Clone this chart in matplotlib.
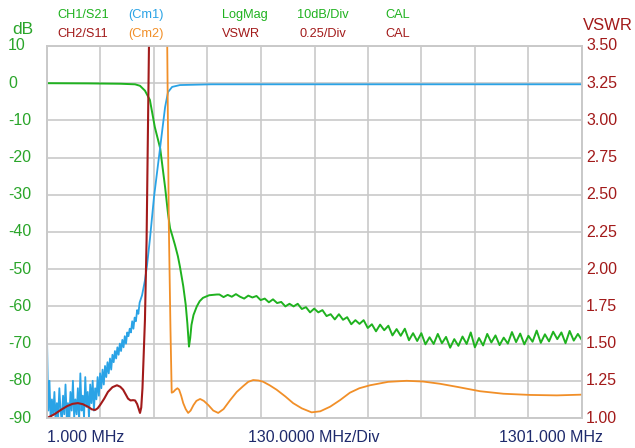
import matplotlib.pyplot as plt
import numpy as np

plt.rcParams['font.family'] = ['Liberation Sans', 'DejaVu Sans']

# CH1/S21 (green, dB) - smooth part of the trace
s21_f = [1, 100, 180, 215, 227, 239, 251, 263, 276, 288, 295, 300, 305,
         312, 319, 324, 332, 338, 342, 346, 349, 352, 357, 365, 372, 380,
         395, 414]
s21_db = [0.0, -0.05, -0.15, -0.3, -0.7, -2.0, -4.5, -11.8, -17.5, -28.0,
          -35.0, -39.0, -40.8, -43.5, -46.5, -49.3, -54.5, -59.5, -64.5,
          -70.8, -68.5, -65.0, -62.3, -60.0, -58.6, -57.7, -57.0, -56.8]
# noisy stop band part, sweep points 420..1301 MHz
s21_noise_db = [-56.8, -57.5, -56.9, -57.4, -56.7, -57.4, -57.9, -57.1, -57.6,
                -57.2, -58.3, -57.9, -58.9, -58.1, -59.1, -58.8, -60.0, -59.3,
                -60.0, -59.3, -60.7, -60.2, -61.6, -60.6, -61.6, -61.0, -62.6,
                -62.1, -63.5, -62.1, -63.6, -62.9, -64.8, -63.7, -64.7, -63.7,
                -65.8, -64.8, -66.7, -64.9, -66.4, -65.2, -67.8, -66.1, -67.9,
                -66.0, -69.1, -67.2, -69.3, -67.2, -70.2, -68.3, -70.1, -67.4,
                -69.9, -68.2, -71.1, -68.8, -70.6, -68.1, -70.1, -67.0, -71.0,
                -68.5, -70.5, -67.4, -69.7, -67.8, -70.4, -68.4, -70.0, -66.9,
                -69.6, -67.3, -70.2, -67.9, -69.5, -66.5, -69.8, -67.5, -69.4,
                -66.8, -68.8, -67.0, -69.9, -66.6, -69.2, -67.4, -69.1]

# Cm1 (blue, dB) - noisy low part, sweep points 1..226 MHz
cm1_noise_db = [-68.5, -88, -80, -91, -85, -89, -83, -91, -86, -90, -82, -88,
                -91, -84, -89, -81, -90, -86, -91, -83, -88, -80, -90, -85,
                -89, -82, -91, -78, -88, -84, -90, -79, -87, -83, -90, -81,
                -86, -80, -88, -82, -85, -79, -84, -78, -82, -77, -81, -76,
                -79, -75, -78, -74, -77, -73, -75, -72, -74, -71, -73, -70,
                -72, -69, -71, -68, -70, -67, -68, -66, -67, -64, -66, -63,
                -64, -61, -62, -59]
cm1_f = [232, 239, 244, 251, 261, 276, 288, 295, 305, 324, 400, 1301]
cm1_db = [-57.0, -53.0, -49.0, -42.0, -30.6, -17.2, -6.4, -2.4, -1.0, -0.5,
          -0.3, -0.3]

# CH2/S11 (dark red, VSWR)
s11_f = [1, 10, 20, 35, 50, 63, 76, 88, 101, 110, 118, 124, 130, 140, 149,
         160, 171, 179, 186, 192, 198, 204, 210, 215, 220, 224, 227, 230,
         233, 239, 243, 249, 260, 1301]
s11_vswr = [1.0, 1.012, 1.027, 1.055, 1.08, 1.095, 1.10, 1.093, 1.075, 1.058,
            1.054, 1.065, 1.087, 1.13, 1.175, 1.207, 1.22, 1.21, 1.19, 1.16,
            1.13, 1.118, 1.12, 1.118, 1.094, 1.06, 1.034, 1.07, 1.2, 1.66,
            2.2, 3.55, 6.0, 6.0]

# Cm2 (orange, VSWR)
cm2_f = [1, 290, 293, 297, 301, 304, 308, 313, 318, 322, 327, 332, 338, 344,
         350, 357, 364, 373, 382, 393, 405, 417, 430, 446, 462, 478, 490,
         502, 515, 526, 542, 559, 580, 599, 620, 644, 665, 689, 713, 737,
         760, 786, 830, 875, 915, 956, 1000, 1053, 1110, 1175, 1240, 1301]
cm2_vswr = [6.0, 6.0, 3.55, 2.3, 1.6, 1.17, 1.175, 1.19, 1.20, 1.19, 1.15,
            1.10, 1.06, 1.034, 1.05, 1.087, 1.115, 1.128, 1.115, 1.087, 1.05,
            1.034, 1.06, 1.12, 1.175, 1.215, 1.243, 1.255, 1.252, 1.244,
            1.22, 1.19, 1.145, 1.10, 1.065, 1.038, 1.045, 1.076, 1.12, 1.17,
            1.20, 1.22, 1.243, 1.25, 1.245, 1.23, 1.208, 1.18, 1.163, 1.155,
            1.152, 1.157]

left_labels = ['10', '0', '-10', '-20', '-30', '-40', '-50', '-60', '-70', '-80', '-90']
right_labels = ['3.50', '3.25', '3.00', '2.75', '2.50', '2.25', '2.00', '1.75',
                '1.50', '1.25', '1.00']

green = '#1fb21f'
blue = '#2aa3e6'
red = '#a21a1a'
orange = '#f18f28'
navy = '#1e2a6c'
gridc = '#c9c9c9'

fig = plt.figure(figsize=(6.35, 4.48), dpi=100)
ax = fig.add_axes([47 / 635, 30 / 448, 535 / 635, 372 / 448])
ax2 = ax.twinx()

ax.set_xlim(1, 1301)
ax.set_ylim(-90, 10)
ax2.set_ylim(1.0, 3.5)
ax.set_xticks(np.linspace(1, 1301, 11))
ax.set_yticks(np.linspace(-90, 10, 11))
ax2.set_yticks([])
ax.grid(color=gridc, linewidth=1.2)
ax.tick_params(left=False, bottom=False, labelleft=False, labelbottom=False)
for a in (ax, ax2):
    for s in a.spines.values():
        s.set_color(gridc)
        s.set_linewidth(1.2)

s21_noise_f = np.linspace(420, 1301, len(s21_noise_db))
cm1_noise_f = np.linspace(1, 226, len(cm1_noise_db))

ax.plot(s21_f + list(s21_noise_f), s21_db + s21_noise_db, color=green, lw=1.4)
ax.plot(list(cm1_noise_f) + cm1_f, cm1_noise_db + cm1_db, color=blue, lw=1.3)
ax2.plot(s11_f, s11_vswr, color=red, lw=1.5)
ax2.plot(cm2_f, cm2_vswr, color=orange, lw=1.3)

ytr = ax.get_yaxis_transform()
for v, lab in zip(np.linspace(10, -90, 11), left_labels):
    ax.text(-0.073, v, lab, transform=ytr, ha='left', va='center',
            color='#2aa52a', fontsize=11.5)
ytr2 = ax2.get_yaxis_transform()
for v, lab in zip(np.linspace(3.5, 1.0, 11), right_labels):
    ax2.text(1.0075, v, lab, transform=ytr2, ha='left', va='center',
             color=red, fontsize=11.5)

fig.text(12 / 635, 1 - 30 / 448, 'dB', color='#2aa52a', fontsize=12.5,
         ha='left', va='center')
fig.text(633 / 635, 1 - 26 / 448, 'VSWR', color=red, fontsize=12,
         ha='right', va='center')

row1 = [('CH1/S21', 57, green), ('(Cm1)', 128, blue), ('LogMag', 222, green),
        ('10dB/Div', 297, green), ('CAL', 385, green)]
row2 = [('CH2/S11', 57, red), ('(Cm2)', 128, orange), ('VSWR', 222, red),
        ('0.25/Div', 300, red), ('CAL', 385, red)]
for txt, x, c in row1:
    fig.text(x / 635, 1 - 15 / 448, txt, color=c, fontsize=9.2, ha='left', va='center')
for txt, x, c in row2:
    fig.text(x / 635, 1 - 34 / 448, txt, color=c, fontsize=9.2, ha='left', va='center')

fig.text(47 / 635, 1 - 437 / 448, '1.000 MHz', color=navy, fontsize=11.5,
         ha='left', va='center')
fig.text(314 / 635, 1 - 437 / 448, '130.0000 MHz/Div', color=navy, fontsize=11.5,
         ha='center', va='center')
fig.text(603 / 635, 1 - 437 / 448, '1301.000 MHz', color=navy, fontsize=11.5,
         ha='right', va='center')

fig.savefig('out.png', dpi=100)
